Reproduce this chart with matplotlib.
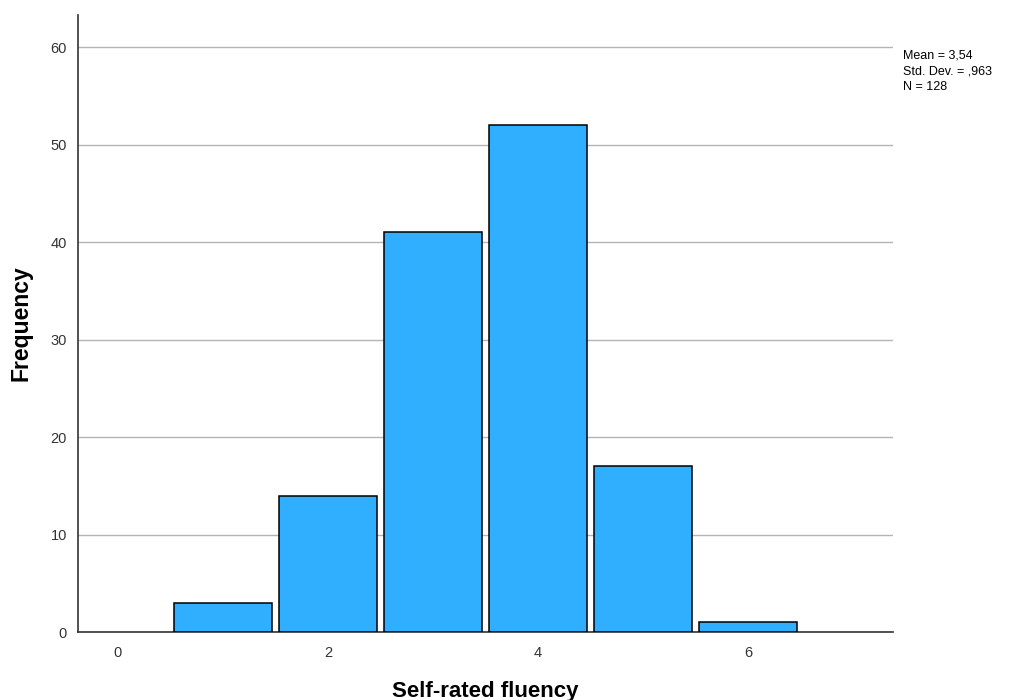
import matplotlib.pyplot as plt

plt.rcParams['font.family'] = ['Liberation Sans', 'DejaVu Sans']

# histogram data
ratings = [1, 2, 3, 4, 5, 6]
counts = [3, 14, 41, 52, 17, 1]
x_ticks = [0, 2, 4, 6]
y_ticks = [0, 10, 20, 30, 40, 50, 60]
stats_text = "Mean = 3,54\nStd. Dev. = ,963\nN = 128"

fig = plt.figure(figsize=(10.14, 7.0), dpi=100)
ax = fig.add_axes([0.0769, 0.0971, 0.8038, 0.8815])

ax.yaxis.grid(True, color='#b4b4b4', lw=1)
ax.set_axisbelow(True)
ax.bar(ratings, counts, width=0.94, color='#30aeff', edgecolor='black', lw=1.1, zorder=3)

ax.set_xlim(-0.38, 7.38)
ax.set_ylim(0, 63.3)
ax.set_xticks(x_ticks)
ax.set_yticks(y_ticks)
ax.tick_params(length=0, labelsize=10.5, colors='#333333', pad=8)
ax.tick_params(axis='x', pad=10)

for side in ['top', 'right']:
    ax.spines[side].set_visible(False)
for side in ['left', 'bottom']:
    ax.spines[side].set_color('#333333')
    ax.spines[side].set_linewidth(1.2)

ax.set_ylabel('Frequency', fontsize=16.5, fontweight='bold', labelpad=13)
ax.set_xlabel('Self-rated fluency', fontsize=16, fontweight='bold', labelpad=15)

fig.text(0.891, 0.930, stats_text, fontsize=9, va='top', ha='left', linespacing=1.45)

plt.savefig('out.png', dpi=100)
